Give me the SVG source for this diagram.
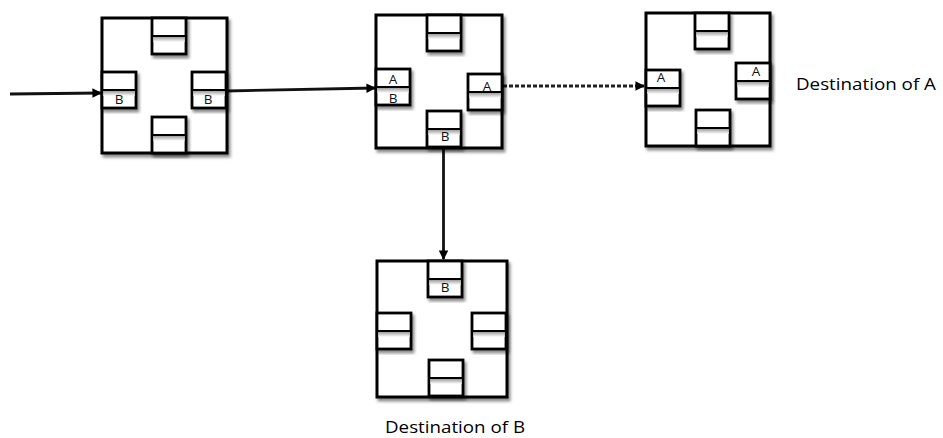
<svg xmlns="http://www.w3.org/2000/svg" width="943" height="438" viewBox="0 0 943 438">
  <style>
    .box { fill: #ffffff; stroke: #000000; stroke-width: 3; filter: url(#soft); }
    .slot { fill: #ffffff; stroke: #000000; stroke-width: 2.8; }
    .div { stroke: #000000; stroke-width: 2.2; }
    .band { fill: url(#shade); }
    .wire { stroke: #111111; stroke-width: 2.8; fill: none; }
    .dash { stroke: #222222; stroke-width: 2.8; fill: none; stroke-dasharray: 4 2; }
    .tag { font-family: "Open Sans", "Liberation Sans", sans-serif; font-size: 13.5px; fill: #111111; text-anchor: middle; }
    .cap { font-family: "Open Sans", "Liberation Sans", sans-serif; font-size: 17px; fill: #000000; }
  </style>
  <defs>
    <filter id="soft" x="-10%" y="-10%" width="125%" height="125%">
      <feDropShadow dx="2" dy="3" stdDeviation="1.6" flood-color="#000000" flood-opacity="0.45"/>
    </filter>
    <linearGradient id="shade" x1="0" y1="0" x2="0" y2="1">
      <stop offset="0" stop-color="#8a8a8a"/>
      <stop offset="1" stop-color="#ffffff"/>
    </linearGradient>
    <!-- one buffer slot: upper and lower half, shaded under the divider -->
    <g id="slot" filter="url(#soft)">
      <rect class="slot" x="0" y="0" width="34" height="36"/>
      <rect class="band" x="1.4" y="18" width="31.2" height="6"/>
      <line class="div" x1="0" y1="18" x2="34" y2="18"/>
    </g>
    <marker id="head" viewBox="0 0 10 10" refX="9" refY="5" markerWidth="3.6" markerHeight="3.4" orient="auto">
      <path d="M0,0 L10,5 L0,10 z" fill="#000000"/>
    </marker>
  </defs>

  <g id="connectors">
    <line class="wire" x1="10" y1="94" x2="101" y2="93" marker-end="url(#head)"/>
    <line class="wire" x1="226" y1="91" x2="375" y2="88" marker-end="url(#head)"/>
    <line class="dash" x1="503" y1="86" x2="644" y2="86" marker-end="url(#head)"/>
    <line class="wire" x1="443.5" y1="148" x2="443.5" y2="259" marker-end="url(#head)"/>
  </g>

  <g id="router1">
    <rect class="box" x="102" y="18" width="125" height="135"/>
    <use href="#slot" x="152" y="18"/>
    <use href="#slot" x="102" y="72"/>
    <use href="#slot" x="192" y="72"/>
    <use href="#slot" x="152" y="117"/>
    <text class="tag" x="119" y="104">B</text>
    <text class="tag" x="208" y="104">B</text>
  </g>

  <g id="router2">
    <rect class="box" x="376" y="15" width="126" height="133"/>
    <use href="#slot" x="427" y="15"/>
    <use href="#slot" x="376" y="69"/>
    <use href="#slot" x="468" y="74"/>
    <use href="#slot" x="427" y="111"/>
    <text class="tag" x="393" y="84">A</text>
    <text class="tag" x="393" y="102.5">B</text>
    <text class="tag" x="487" y="91">A</text>
    <text class="tag" x="445" y="141">B</text>
  </g>

  <g id="router3">
    <rect class="box" x="646" y="13" width="124" height="133"/>
    <use href="#slot" x="695" y="13"/>
    <use href="#slot" x="646" y="70"/>
    <use href="#slot" x="736" y="63"/>
    <use href="#slot" x="696" y="110"/>
    <text class="tag" x="661" y="82">A</text>
    <text class="tag" x="756" y="76">A</text>
    <text class="cap" x="796" y="90" textLength="140" lengthAdjust="spacingAndGlyphs">Destination of A</text>
  </g>

  <g id="router4">
    <rect class="box" x="377" y="261" width="130" height="136"/>
    <use href="#slot" x="428" y="261"/>
    <use href="#slot" x="377" y="313"/>
    <use href="#slot" x="472" y="313"/>
    <use href="#slot" x="429" y="360"/>
    <text class="tag" x="445" y="292">B</text>
    <text class="cap" x="385" y="433" textLength="140" lengthAdjust="spacingAndGlyphs">Destination of B</text>
  </g>
</svg>
